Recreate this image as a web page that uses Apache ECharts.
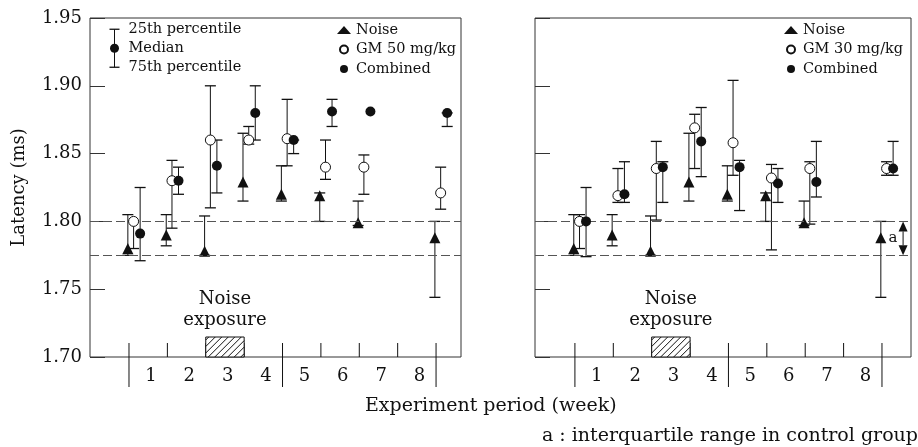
<!DOCTYPE html>
<html><head><meta charset="utf-8">
<script src="https://cdn.jsdelivr.net/npm/echarts@6/dist/echarts.min.js"></script>
<style>html,body{margin:0;padding:0;background:#fff}#c{width:918px;height:447px}</style>
</head><body><div id="c"></div>
<script>
// ---- data ----
const timePoints = [0, 1, 2, 3, 4, 5, 6, 8];
const weekBoundaries = [0, 1, 2, 3, 4, 5, 6, 7, 8];
const weekLabels = ['1', '2', '3', '4', '5', '6', '7', '8'];
const controlIQR = [1.775, 1.80];

// Noise group (same in both panels)
const noiseMed = [1.780, 1.790, 1.778, 1.829, 1.820, 1.819, 1.799, 1.788];
const noiseQ25 = [1.775, 1.782, 1.775, 1.815, 1.815, 1.800, 1.797, 1.744];
const noiseQ75 = [1.805, 1.805, 1.804, 1.865, 1.841, 1.821, 1.815, 1.800];

// Left panel: GM 50 mg/kg and combined
const gm50Med = [1.800, 1.830, 1.860, 1.860, 1.861, 1.840, 1.840, 1.821];
const gm50Q25 = [1.780, 1.795, 1.810, 1.857, 1.841, 1.831, 1.820, 1.809];
const gm50Q75 = [1.800, 1.845, 1.900, 1.870, 1.890, 1.860, 1.849, 1.840];
const comb50Med = [1.791, 1.830, 1.841, 1.880, 1.860, 1.881, 1.881, 1.880];
const comb50Q25 = [1.771, 1.820, 1.821, 1.860, 1.850, 1.870, 1.881, 1.870];
const comb50Q75 = [1.825, 1.840, 1.860, 1.900, 1.860, 1.890, 1.881, 1.880];

// Right panel: GM 30 mg/kg and combined
const gm30Med = [1.800, 1.819, 1.839, 1.869, 1.858, 1.832, 1.839, 1.839];
const gm30Q25 = [1.780, 1.814, 1.801, 1.839, 1.834, 1.779, 1.798, 1.834];
const gm30Q75 = [1.805, 1.839, 1.859, 1.879, 1.904, 1.842, 1.844, 1.844];
const comb30Med = [1.800, 1.820, 1.840, 1.859, 1.840, 1.828, 1.829, 1.839];
const comb30Q25 = [1.774, 1.814, 1.814, 1.833, 1.808, 1.814, 1.818, 1.834];
const comb30Q75 = [1.825, 1.844, 1.844, 1.884, 1.845, 1.839, 1.859, 1.859];

// ---- rendering ----
const FONT = '"DejaVu Serif", serif';
const INK = '#111';
const OFF = { noise: -0.03, gm: 0.12, comb: 0.29 };
const YMIN = 1.70, YMAX = 1.95;

function pts(med, off) { return timePoints.map((t, i) => [t + off, med[i]]); }
function bars(q25, q75, off) { return timePoints.map((t, i) => [t + off, q25[i], q75[i]]); }

function errRender(params, api) {
  const x = api.value(0), lo = api.value(1), hi = api.value(2);
  if (lo === hi) return null;
  const a = api.coord([x, lo]), b = api.coord([x, hi]);
  const hw = 5.5;
  return { type: 'group', children: [
    { type: 'line', shape: { x1: a[0], y1: a[1], x2: b[0], y2: b[1] }, style: { stroke: INK, lineWidth: 1 } },
    { type: 'line', shape: { x1: a[0] - hw, y1: a[1], x2: a[0] + hw, y2: a[1] }, style: { stroke: INK, lineWidth: 1.3 } },
    { type: 'line', shape: { x1: b[0] - hw, y1: b[1], x2: b[0] + hw, y2: b[1] }, style: { stroke: INK, lineWidth: 1.3 } }
  ]};
}

function sepRender(params, api) {
  const t = api.value(0);
  const p = api.coord([t, YMIN]);
  const long = (t % 4 === 0);
  return { type: 'line', shape: { x1: p[0], y1: p[1] - 14, x2: p[0], y2: long ? p[1] + 30 : p[1] },
           style: { stroke: INK, lineWidth: 1 } };
}

function labelRender(params, api) {
  const idx = api.value(0);
  const p = api.coord([idx + 0.57, YMIN]);
  return { type: 'text', style: { text: weekLabels[idx], x: p[0], y: p[1] + 19, align: 'center',
           verticalAlign: 'middle', fontFamily: FONT, fontSize: 18, fill: INK } };
}

function exposureRender(params, api) {
  const t0 = api.value(0), t1 = api.value(1);
  const a = api.coord([t0, YMIN]), b = api.coord([t1, YMIN]);
  const x0 = a[0], x1 = b[0], yb = a[1], h = 20, yt = yb - h;
  const kids = [
    { type: 'rect', shape: { x: x0, y: yt, width: x1 - x0, height: h }, style: { fill: '#fff', stroke: INK, lineWidth: 1 } }
  ];
  for (let k = x0 - h + 3; k < x1; k += 6.5) {
    let sx = k, sy = yb, ex = k + h, ey = yt;
    if (sx < x0) { sy = yb - (x0 - sx); sx = x0; }
    if (ex > x1) { ey = yt + (ex - x1); ex = x1; }
    kids.push({ type: 'line', shape: { x1: sx, y1: sy, x2: ex, y2: ey }, style: { stroke: INK, lineWidth: 1 } });
  }
  const c = api.coord([(t0 + t1) / 2, YMIN]);
  kids.push({ type: 'text', style: { text: 'Noise\nexposure', x: c[0], y: yb - 47, align: 'center',
              verticalAlign: 'middle', fontFamily: FONT, fontSize: 18, lineHeight: 21, fill: INK } });
  return { type: 'group', children: kids };
}

function arrowRender(params, api) {
  const x = api.value(0), lo = api.value(1), hi = api.value(2);
  const a = api.coord([x, lo]), b = api.coord([x, hi]);
  const ah = 10, aw = 4.5;
  const mid = api.coord([x, (lo + hi) / 2]);
  return { type: 'group', children: [
    { type: 'line', shape: { x1: a[0], y1: a[1] - ah, x2: b[0], y2: b[1] + ah }, style: { stroke: INK, lineWidth: 1 } },
    { type: 'polygon', shape: { points: [[b[0], b[1]], [b[0] - aw, b[1] + ah], [b[0] + aw, b[1] + ah]] }, style: { fill: INK } },
    { type: 'polygon', shape: { points: [[a[0], a[1]], [a[0] - aw, a[1] - ah], [a[0] + aw, a[1] - ah]] }, style: { fill: INK } },
    { type: 'text', style: { text: 'a', x: a[0] - 10, y: mid[1], align: 'center', verticalAlign: 'middle',
      fontFamily: FONT, fontSize: 15, fill: INK } }
  ]};
}

function panelSeries(gi, gmName, gmMed, gmQ25, gmQ75, cMed, cQ25, cQ75, withArrow) {
  const s = [
    { type: 'custom', xAxisIndex: gi, yAxisIndex: gi, clip: false, z: 1, silent: true,
      data: weekBoundaries.map(t => [t]), renderItem: sepRender },
    { type: 'custom', xAxisIndex: gi, yAxisIndex: gi, clip: false, z: 1, silent: true,
      data: weekLabels.map((l, i) => [i]), renderItem: labelRender },
    { type: 'custom', xAxisIndex: gi, yAxisIndex: gi, clip: false, z: 2, silent: true,
      data: [[2, 3]], renderItem: exposureRender },
    { type: 'custom', xAxisIndex: gi, yAxisIndex: gi, z: 3, silent: true,
      data: bars(noiseQ25, noiseQ75, OFF.noise).concat(bars(gmQ25, gmQ75, OFF.gm), bars(cQ25, cQ75, OFF.comb)),
      renderItem: errRender,
      markLine: { silent: true, symbol: 'none', precision: 4, label: { show: false },
        lineStyle: { type: [9, 4], color: '#555', width: 1 },
        data: controlIQR.map(v => ({ yAxis: v })) } },
    { name: 'Noise', type: 'scatter', xAxisIndex: gi, yAxisIndex: gi, z: 4, symbol: 'triangle', symbolSize: [11, 11],
      itemStyle: { color: INK, opacity: 1 }, data: pts(noiseMed, OFF.noise) },
    { name: gmName, type: 'scatter', xAxisIndex: gi, yAxisIndex: gi, z: 5, symbol: 'circle', symbolSize: 10,
      itemStyle: { color: '#fff', borderColor: INK, borderWidth: 1, opacity: 1 }, data: pts(gmMed, OFF.gm) },
    { name: 'Combined', type: 'scatter', xAxisIndex: gi, yAxisIndex: gi, z: 6, symbol: 'circle', symbolSize: 10,
      itemStyle: { color: INK, opacity: 1 }, data: pts(cMed, OFF.comb) }
  ];
  if (withArrow) {
    s.push({ type: 'custom', xAxisIndex: gi, yAxisIndex: gi, clip: false, z: 3, silent: true,
      data: [[8.55, controlIQR[0], controlIQR[1]]], renderItem: arrowRender });
  }
  return s;
}

const yAxisBase = {
  type: 'value', min: YMIN, max: YMAX, interval: 0.05,
  axisLine: { show: false, onZero: false }, splitLine: { show: false },
  axisTick: { show: true, inside: true, length: 15, lineStyle: { color: '#333', width: 1 } }
};
const xAxisBase = {
  type: 'value', axisLine: { show: false, onZero: false }, axisTick: { show: false },
  axisLabel: { show: false }, splitLine: { show: false }
};

const legendBase = { orient: 'vertical', padding: 0, itemWidth: 14, itemHeight: 8, itemGap: 4.5, selectedMode: false,
  textStyle: { fontFamily: FONT, fontSize: 14.5, color: INK } };

const chart = echarts.init(document.getElementById('c'));
chart.setOption({
  animation: false,
  backgroundColor: '#fff',
  grid: [
    { left: 90, top: 18, width: 371, height: 339, show: true, borderColor: '#333', borderWidth: 1, backgroundColor: 'transparent' },
    { left: 535, top: 18, width: 376, height: 339, show: true, borderColor: '#333', borderWidth: 1, backgroundColor: 'transparent' }
  ],
  xAxis: [
    Object.assign({ gridIndex: 0, min: -1.016, max: 8.65 }, xAxisBase),
    Object.assign({ gridIndex: 1, min: -1.04, max: 8.756 }, xAxisBase)
  ],
  yAxis: [
    Object.assign({ gridIndex: 0, name: 'Latency (ms)', nameLocation: 'middle', nameGap: 62,
      nameTextStyle: { fontFamily: FONT, fontSize: 18, color: INK },
      axisLabel: { margin: 8, fontFamily: FONT, fontSize: 18, color: INK, formatter: v => v.toFixed(2) } }, yAxisBase),
    Object.assign({ gridIndex: 1, axisLabel: { show: false } }, yAxisBase)
  ],
  legend: [
    Object.assign({ left: 337, top: 22.5, data: ['Noise', 'GM 50 mg/kg', 'Combined'] }, legendBase),
    Object.assign({ left: 784, top: 22.5, data: ['Noise', 'GM 30 mg/kg', 'Combined'] }, legendBase)
  ],
  graphic: [
    { type: 'group', left: 107, top: 21.75, children: [
      { type: 'line', shape: { x1: 5, y1: 0.5, x2: 5, y2: 38.5 }, style: { stroke: INK, lineWidth: 1 } },
      { type: 'line', shape: { x1: 0, y1: 0.5, x2: 10, y2: 0.5 }, style: { stroke: INK, lineWidth: 1.3 } },
      { type: 'line', shape: { x1: 0, y1: 38.5, x2: 10, y2: 38.5 }, style: { stroke: INK, lineWidth: 1.3 } },
      { type: 'circle', shape: { cx: 5, cy: 19.5, r: 4.5 }, style: { fill: INK } },
      { type: 'text', style: { text: '25th percentile', x: 19, y: 0.5, verticalAlign: 'middle', fontFamily: FONT, fontSize: 14.5, fill: INK } },
      { type: 'text', style: { text: 'Median', x: 19, y: 19.5, verticalAlign: 'middle', fontFamily: FONT, fontSize: 14.5, fill: INK } },
      { type: 'text', style: { text: '75th percentile', x: 19, y: 38.5, verticalAlign: 'middle', fontFamily: FONT, fontSize: 14.5, fill: INK } }
    ]},
    { type: 'text', left: 365, top: 397, style: { text: 'Experiment period (week)', fontFamily: FONT, fontSize: 19, fill: INK } },
    { type: 'text', right: 0, top: 427, style: { text: 'a : interquartile range in control group', fontFamily: FONT, fontSize: 19, fill: INK } }
  ],
  series: [].concat(
    panelSeries(0, 'GM 50 mg/kg', gm50Med, gm50Q25, gm50Q75, comb50Med, comb50Q25, comb50Q75, false),
    panelSeries(1, 'GM 30 mg/kg', gm30Med, gm30Q25, gm30Q75, comb30Med, comb30Q25, comb30Q75, true)
  )
});
</script>
</body></html>
